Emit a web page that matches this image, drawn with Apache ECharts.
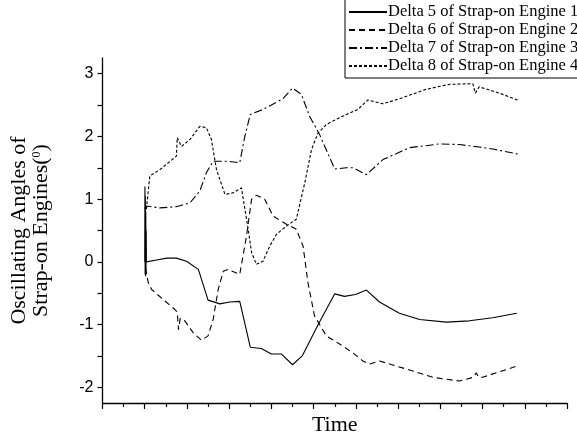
<!DOCTYPE html>
<html><head><meta charset="utf-8">
<script src="https://cdn.jsdelivr.net/npm/echarts@6/dist/echarts.min.js"></script>
<style>html,body{margin:0;padding:0;background:#fff}#c{width:577px;height:441px}</style>
</head><body><div id="c"></div>
<script>
const seriesNames = ['Delta 5 of Strap-on Engine 1','Delta 6 of Strap-on Engine 2','Delta 7 of Strap-on Engine 3','Delta 8 of Strap-on Engine 4'];
const yTickValues = [-2,-1.5,-1,-0.5,0,0.5,1,1.5,2,2.5,3];
const yLabelValues = [-2,-1,0,1,2,3];
const delta5 = [[1.0,0],[1.005,1.2],[1.01,-0.2],[1.015,1.05],[1.02,-0.23],[1.025,0.8],[1.03,-0.15],[1.035,0.5],[1.04,0.0],[1.045,0.03],[1.28,0.03],[1.52,0.06],[1.75,0.06],[1.99,0.01],[2.27,-0.12],[2.50,-0.61],[2.78,-0.67],[3.01,-0.64],[3.25,-0.63],[3.50,-1.36],[3.76,-1.38],[4.0,-1.47],[4.24,-1.47],[4.50,-1.64],[4.73,-1.50],[4.97,-1.18],[5.13,-0.97],[5.50,-0.51],[5.73,-0.55],[5.99,-0.52],[6.25,-0.45],[6.56,-0.64],[7.03,-0.82],[7.51,-0.92],[8.14,-0.96],[8.69,-0.94],[9.24,-0.89],[9.81,-0.82]];
const delta6 = [[1.02,-0.1],[1.083,-0.33],[1.163,-0.44],[1.437,-0.60],[1.714,-0.76],[1.77,-0.80],[1.80,-1.08],[1.84,-0.90],[1.95,-0.94],[2.147,-1.13],[2.345,-1.25],[2.50,-1.18],[2.62,-0.92],[2.74,-0.44],[2.86,-0.15],[2.97,-0.12],[3.25,-0.20],[3.29,-0.23],[3.41,0.41],[3.53,1.0],[3.645,1.06],[3.84,1.0],[4.04,0.73],[4.355,0.60],[4.59,0.52],[4.75,0.25],[4.865,-0.33],[5.02,-0.86],[5.30,-1.18],[5.615,-1.31],[5.93,-1.45],[6.165,-1.58],[6.32,-1.63],[6.56,-1.58],[7.35,-1.74],[7.82,-1.84],[8.45,-1.90],[8.78,-1.84],[8.85,-1.77],[8.91,-1.84],[9.0,-1.84],[9.71,-1.685],[9.82,-1.66]];
const delta7 = [[1.0,0.85],[1.045,0.89],[1.36,0.86],[1.75,0.88],[2.07,0.94],[2.305,1.13],[2.46,1.42],[2.62,1.605],[2.94,1.605],[3.25,1.58],[3.37,2.0],[3.50,2.35],[3.80,2.43],[4.27,2.60],[4.50,2.77],[4.71,2.67],[4.905,2.32],[5.14,2.03],[5.50,1.48],[5.77,1.50],[5.93,1.50],[6.25,1.39],[6.64,1.63],[7.27,1.82],[7.98,1.88],[8.45,1.87],[8.92,1.83],[9.24,1.80],[9.83,1.72]];
const delta8 = [[1.04,0.84],[1.12,1.37],[1.36,1.47],[1.75,1.685],[1.77,1.98],[1.87,1.84],[2.07,1.95],[2.305,2.16],[2.46,2.14],[2.58,1.95],[2.70,1.47],[2.90,1.075],[3.09,1.10],[3.29,1.18],[3.45,0.52],[3.53,0.15],[3.645,-0.04],[3.80,0.01],[3.96,0.25],[4.12,0.44],[4.355,0.57],[4.59,0.68],[4.79,1.26],[4.95,1.79],[5.10,2.05],[5.30,2.19],[5.615,2.30],[6.05,2.43],[6.28,2.58],[6.64,2.52],[7.03,2.60],[7.66,2.75],[8.215,2.83],[8.77,2.84],[8.83,2.69],[8.92,2.79],[9.40,2.69],[9.83,2.58]];

const chart = echarts.init(document.getElementById('c'), null, {renderer:'canvas'});
const serif = '"Liberation Serif","Times New Roman",serif';
const sans = '"Liberation Sans",Arial,sans-serif';
const dashes = ['solid',[6,4],[8,3,2,3],[3,2]];
const datas = [delta5, delta6, delta7, delta8];
chart.setOption({
  animation:false,
  backgroundColor:'#fff',
  grid:{left:102.5, right:10, top:58, bottom:37.5, containLabel:false},
  legend:{
    orient:'vertical', left:345, top:-1, data:seriesNames,
    itemWidth:38, itemHeight:14, itemGap:0,
    padding:[4,8,3,3], borderColor:'#000', borderWidth:1, backgroundColor:'#fff',
    itemStyle:{opacity:0},
    textStyle:{fontFamily:serif, fontSize:16.5, lineHeight:18, color:'#000', padding:[0,0,0,-4]},
    inactiveColor:'#000'
  },
  xAxis:{
    type:'value', min:0, max:11, interval:1,
    name:'Time', nameLocation:'middle', nameGap:11,
    nameTextStyle:{fontFamily:serif, fontSize:22, color:'#000', verticalAlign:'top'},
    axisLine:{onZero:false, lineStyle:{color:'#000', width:1.3}},
    axisTick:{show:true, inside:false, length:6, lineStyle:{color:'#000', width:1.2}},
    minorTick:{show:true, splitNumber:2, length:4, lineStyle:{color:'#000', width:1.2}},
    axisLabel:{show:false},
    splitLine:{show:false}
  },
  yAxis:{
    type:'value', min:-2.25, max:3.25,
    name:'{a|Oscillating Angles of}\n{a|Strap-on Engines(}{s|0}{a|)}',
    nameLocation:'middle', nameGap:50, nameRotate:90,
    nameTextStyle:{fontFamily:serif, fontSize:22, color:'#000',
      rich:{a:{fontFamily:serif, fontSize:22, color:'#000', lineHeight:22},
            s:{fontFamily:serif, fontSize:12, color:'#000', verticalAlign:'top', lineHeight:22, padding:[0,0,10,0]}}},
    axisLine:{show:true, onZero:false, lineStyle:{color:'#000', width:1.3}},
    axisTick:{show:true, inside:false, length:5, customValues:yTickValues, lineStyle:{color:'#000', width:1.2}},
    axisLabel:{fontFamily:sans, fontSize:16, color:'#000', margin:9, customValues:yLabelValues},
    splitLine:{show:false}
  },
  series: datas.map((d,i)=>({
    name:seriesNames[i], type:'line', data:d, symbol:'none', showSymbol:false,
    lineStyle:{color:'#000', width:1.1, type:dashes[i]},
    itemStyle:{color:'#000'}, clip:true
  }))
});
</script></body></html>
